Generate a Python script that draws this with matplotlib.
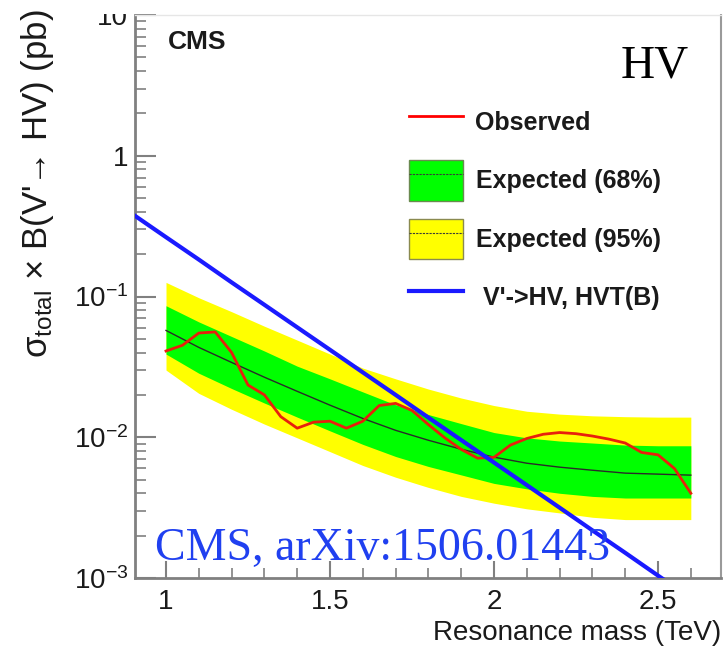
import matplotlib
matplotlib.use("Agg")
import matplotlib.pyplot as plt
from matplotlib.patches import Patch, Rectangle
from matplotlib.lines import Line2D
from matplotlib.ticker import FixedLocator, MultipleLocator, LogLocator, NullFormatter

plt.rcParams['font.family'] = ['Liberation Sans', 'DejaVu Sans']
plt.rcParams['mathtext.fontset'] = 'custom'
plt.rcParams['mathtext.rm'] = 'Liberation Sans'
plt.rcParams['mathtext.it'] = 'Liberation Sans:italic'
plt.rcParams['mathtext.bf'] = 'Liberation Sans:bold'

# expected limits (TeV, pb)
mass_exp = [1.0, 1.1, 1.2, 1.3, 1.4, 1.5, 1.6, 1.7, 1.8, 1.9, 2.0,
            2.1, 2.2, 2.3, 2.4, 2.5, 2.6]
exp_median = [0.0574, 0.0435, 0.0340, 0.0267, 0.0212, 0.0169, 0.0136, 0.0112, 0.00952,
              0.00822, 0.00722, 0.00654, 0.00613, 0.00583, 0.00556, 0.00547, 0.00538]
exp_1s_up = [0.086, 0.066, 0.052, 0.041, 0.032, 0.026, 0.021, 0.0170, 0.0145,
             0.0125, 0.0108, 0.0099, 0.0094, 0.0091, 0.0088, 0.0087, 0.0087]
exp_1s_dn = [0.039, 0.0285, 0.0222, 0.0175, 0.0139, 0.0111, 0.0089, 0.0073, 0.0062,
             0.0054, 0.0047, 0.0043, 0.0040, 0.0038, 0.0037, 0.0037, 0.0037]
exp_2s_up = [0.126, 0.098, 0.078, 0.0615, 0.049, 0.039, 0.031, 0.026, 0.022,
             0.019, 0.0168, 0.0153, 0.0146, 0.0142, 0.0140, 0.0139, 0.0139]
exp_2s_dn = [0.0300, 0.0205, 0.0158, 0.0124, 0.0099, 0.0079, 0.0063, 0.0052, 0.0044,
             0.0038, 0.0034, 0.0031, 0.0029, 0.0027, 0.0026, 0.0026, 0.0026]

# observed limit
mass_obs = [1.00, 1.05, 1.10, 1.15, 1.20, 1.25, 1.30, 1.35, 1.40, 1.45, 1.50,
            1.55, 1.60, 1.65, 1.70, 1.75, 1.80, 1.85, 1.90, 1.95, 2.00,
            2.05, 2.10, 2.15, 2.20, 2.25, 2.30, 2.35, 2.40, 2.45, 2.50, 2.55, 2.60]
obs = [0.041, 0.045, 0.055, 0.056, 0.040, 0.0235, 0.0200, 0.0140, 0.0116, 0.0128, 0.0130,
       0.0116, 0.0130, 0.0168, 0.0174, 0.0155, 0.0123, 0.0099, 0.0082, 0.0071, 0.0072,
       0.0088, 0.0098, 0.0105, 0.0108, 0.0106, 0.0102, 0.0097, 0.0091, 0.0078, 0.0075,
       0.0060, 0.0040]

# HVT model B theory curve
mass_th = [0.9, 1.0, 1.1, 1.2, 1.3, 1.4, 1.5, 1.6, 1.7, 1.8, 1.9, 2.0,
           2.1, 2.2, 2.3, 2.4, 2.5, 2.6]
theory = [0.382, 0.264, 0.183, 0.126, 0.0873, 0.0604, 0.0418, 0.0289, 0.0200, 0.0138,
          0.00955, 0.00661, 0.00457, 0.00316, 0.00218, 0.00151, 0.00104, 0.00072]

fig = plt.figure(figsize=(7.25, 6.56), dpi=100)
ax = fig.add_axes([135/725, 1 - 578/656, (721 - 135)/725, (578 - 15)/656])

ax.fill_between(mass_exp, exp_2s_dn, exp_2s_up, color='#ffff00', lw=0, zorder=1)
ax.fill_between(mass_exp, exp_1s_dn, exp_1s_up, color='#00ff00', lw=0, zorder=2)
ax.plot(mass_exp, exp_median, color='#2a2a2a', lw=1, zorder=3)
ax.plot(mass_obs, obs, color='#e8200c', lw=2, zorder=4)
ax.plot(mass_th, theory, color='#1a1aff', lw=3, zorder=5)

ax.set_yscale('log')
ax.set_xlim(0.9055, 2.692)
ax.set_ylim(1e-3, 10)

ax.yaxis.set_major_locator(FixedLocator([1e-3, 1e-2, 1e-1, 1, 10]))
ax.set_yticklabels(['$10^{-3}$', '$10^{-2}$', '$10^{-1}$', '1', '10'])
ax.yaxis.set_minor_locator(LogLocator(base=10, subs=range(2, 10)))
ax.yaxis.set_minor_formatter(NullFormatter())
ax.xaxis.set_major_locator(FixedLocator([1, 1.5, 2, 2.5]))
ax.set_xticklabels(['1', '1.5', '2', '2.5'])
ax.xaxis.set_minor_locator(MultipleLocator(0.1))

ax.tick_params(axis='both', which='both', direction='in', colors='#808080',
               labelcolor='#1a1a1a', labelsize=20, top=False, right=False)
ax.tick_params(axis='y', which='major', length=15, width=1.5, pad=5)
ax.tick_params(axis='y', which='minor', length=8, width=1.2)
ax.tick_params(axis='x', which='major', length=12, width=1.5, pad=8)
ax.tick_params(axis='x', which='minor', length=7, width=1.2)

for s in ['left', 'bottom']:
    ax.spines[s].set_color('#808080')
    ax.spines[s].set_linewidth(2)
ax.spines['right'].set_color('#9a9a9a')
ax.spines['right'].set_linewidth(1.5)
ax.spines['top'].set_color('#e6e6e6')
ax.spines['top'].set_linewidth(1)

ax.set_xlabel('Resonance mass (TeV)', fontsize=20, loc='right', color='#1a1a1a')
ax.xaxis.set_label_coords(1.0, -0.075)
ax.set_ylabel(r"σ$_{\mathrm{total}}$ × B(V'→ HV) (pb)", fontsize=25, loc='top',
              color='#1a1a1a')
ax.yaxis.set_label_coords(-0.135, 1.01)

fig.text(168/725, 1 - 49/656, 'CMS', fontsize=19, fontweight='bold', color='#1a1a1a')
fig.text(689/725, 1 - 77/656, 'HV', fontsize=34, family='Liberation Serif',
         ha='right', color='black')
fig.text(155/725, 1 - 560/656, 'CMS, arXiv:1506.01443', fontsize=33,
         family='Liberation Serif', color='#2040f0', zorder=10)

handles = [
    Line2D([], [], color='red', lw=2),
    (Patch(facecolor='#00ff00', edgecolor='#6a8a50', lw=1),
     Line2D([], [], color='#3a3a3a', lw=0.8, ls=(0, (2, 1)))),
    (Patch(facecolor='#ffff00', edgecolor='#8a8a50', lw=1),
     Line2D([], [], color='#3a3a3a', lw=0.8, ls=(0, (2, 1)))),
    Line2D([], [], color='#1a1aff', lw=3),
]
labels = ['Observed', 'Expected (68%)', 'Expected (95%)', " V'->HV, HVT(B)"]
fig.legend(handles, labels, loc='upper left', bbox_to_anchor=(409/725, 1 - 102/656),
           frameon=False, borderpad=0, borderaxespad=0, handlelength=2.16,
           handleheight=2.1, labelspacing=0.72, handletextpad=0.5,
           prop={'size': 18, 'weight': 'bold'}, labelcolor='#1a1a1a')

# cropped top margin of the original screenshot
fig.patches.append(Rectangle((70/725, 1 - 14/656), 1, 14/656, transform=fig.transFigure,
                             facecolor='white', edgecolor='none', zorder=20))

fig.savefig('out.png', dpi=100)
